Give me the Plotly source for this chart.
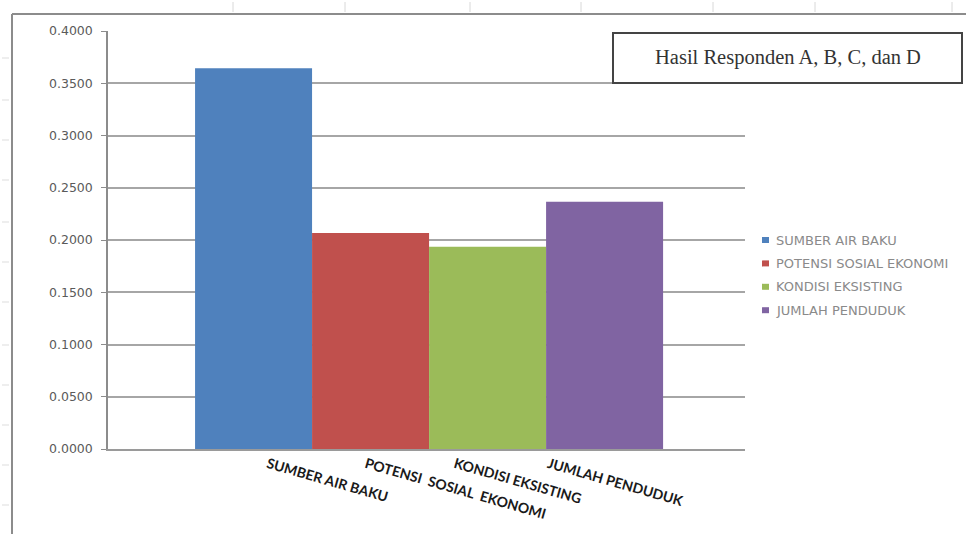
import plotly.graph_objects as go

# Kriteria yang dinilai dan bobot hasil responden
categories = ["SUMBER AIR BAKU", "POTENSI SOSIAL EKONOMI", "KONDISI EKSISTING", "JUMLAH PENDUDUK"]
weights = [0.3643, 0.2068, 0.1935, 0.2365]
colors = ["#4F81BD", "#C0504D", "#9BBB59", "#8064A2"]
y_ticks = [0.0, 0.05, 0.10, 0.15, 0.20, 0.25, 0.30, 0.35, 0.40]
x_labels = ["SUMBER AIR BAKU", "POTENSI  SOSIAL  EKONOMI", "KONDISI EKSISTING", "JUMLAH PENDUDUK"]
title_text = "Hasil Responden A, B, C, dan D"

# Page geometry (pixels)
W, H = 966, 534
L, R, T, B = 108, 745, 31, 449

# bar slots sit side by side, labels are shifted along the axis
bar_pos = list(range(len(categories)))
label_pos = [0.12, 0.96, 1.72, 2.52]

WIDE_FONT = "'DejaVu Sans', Verdana, sans-serif"


def px(x):
    return (x - L) / (R - L)


def py(y):
    return (B - y) / (B - T)


fig = go.Figure()
for i, (name, val, col) in enumerate(zip(categories, weights, colors)):
    fig.add_trace(go.Bar(
        x=[bar_pos[i]], y=[val], name=name, width=1.0,
        marker=dict(color=col, line=dict(width=0)),
    ))

shapes = []
annotations = []
# outer chart-area frame (left and top edges)
shapes.append(dict(type="line", xref="paper", yref="paper",
                   x0=px(12), x1=px(W + 5), y0=py(14), y1=py(14),
                   line=dict(color="#8c8c8c", width=2)))
shapes.append(dict(type="line", xref="paper", yref="paper",
                   x0=px(12), x1=px(12), y0=py(14), y1=py(H + 5),
                   line=dict(color="#8c8c8c", width=2)))
# faint worksheet cell marks around the frame
for cx in [233, 345, 470, 581, 713, 815, 952]:
    shapes.append(dict(type="line", xref="paper", yref="paper",
                       x0=px(cx), x1=px(cx), y0=py(2), y1=py(12),
                       line=dict(color="#d8d8d8", width=1)))
for cy in [58, 100, 140, 180, 222, 262, 302, 345, 385, 425, 465, 505]:
    shapes.append(dict(type="line", xref="paper", yref="paper",
                       x0=px(2), x1=px(9), y0=py(cy), y1=py(cy),
                       line=dict(color="#dddddd", width=1)))
# title box
shapes.append(dict(type="rect", xref="paper", yref="paper",
                   x0=px(613), x1=px(962), y0=py(33), y1=py(83),
                   line=dict(color="#444444", width=2), fillcolor="white",
                   layer="above"))
annotations.append(dict(text=title_text, xref="paper", yref="paper",
                        x=px(788), y=py(57), showarrow=False,
                        xanchor="center", yanchor="middle",
                        font=dict(family="Liberation Serif", size=20.5, color="#333333")))

# legend: small colour squares with series names
leg_x, leg_y0, leg_dy = 762, 240, 23.4
for i, (name, col) in enumerate(zip(categories, colors)):
    yc = leg_y0 + i * leg_dy
    shapes.append(dict(type="rect", xref="paper", yref="paper",
                       x0=px(leg_x), x1=px(leg_x + 7), y0=py(yc - 3), y1=py(yc + 3),
                       line=dict(width=0), fillcolor=col))
    annotations.append(dict(text=name, xref="paper", yref="paper",
                            x=px(leg_x + 12), y=py(yc), showarrow=False,
                            xanchor="left", yanchor="middle",
                            font=dict(family=WIDE_FONT, size=13, color="#8a8a8a")))

fig.update_layout(
    width=W, height=H,
    margin=dict(l=L, r=W - R, t=T, b=H - B, pad=0),
    paper_bgcolor="white", plot_bgcolor="white",
    barmode="overlay",
    showlegend=False,
    xaxis=dict(range=[-1.244, 4.2], tickmode="array", tickvals=label_pos,
               ticktext=x_labels, tickangle=16, showgrid=False,
               showline=True, linecolor="#9a9a9a", linewidth=2,
               ticks="", zeroline=False,
               tickfont=dict(family="Lato", size=14, color="#1a1a1a", weight="bold")),
    yaxis=dict(range=[0, 0.4], tickmode="array", tickvals=y_ticks,
               ticktext=[f"{v:.4f}" for v in y_ticks],
               showgrid=True, gridcolor="#a6a6a6", gridwidth=1.5,
               showline=True, linecolor="#8c8c8c", linewidth=1.5,
               ticks="outside", ticklen=5, tickcolor="#8c8c8c",
               zeroline=False, ticklabelstandoff=6,
               tickfont=dict(family=WIDE_FONT, size=12.5, color="#5a5a5a")),
    shapes=shapes,
    annotations=annotations,
)

fig.write_html("out.html")
